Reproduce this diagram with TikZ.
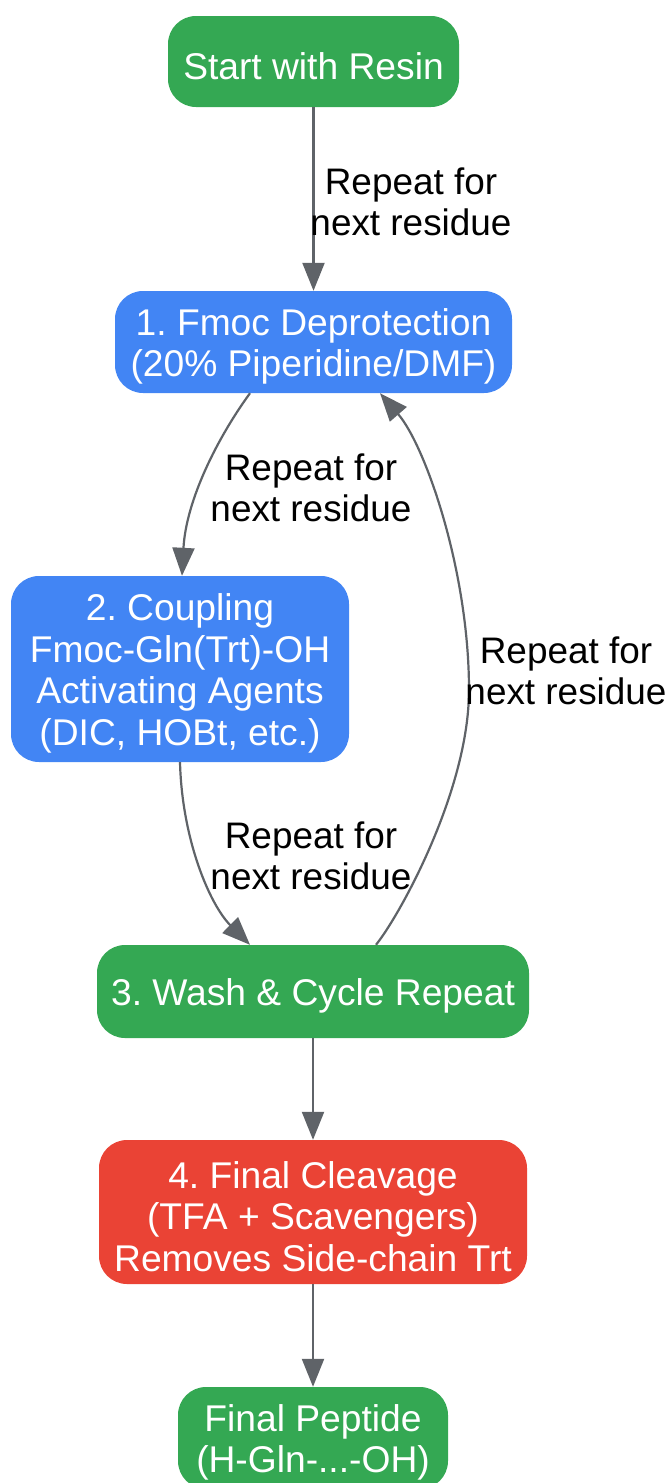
\documentclass[tikz,border=0pt]{standalone}
\usepackage{fontspec}
\setmainfont{Liberation Sans}
\usetikzlibrary{arrows.meta}
\definecolor{gGreen}{HTML}{34A853}
\definecolor{gBlue}{HTML}{4285F4}
\definecolor{gRed}{HTML}{EA4335}
\definecolor{edgeGray}{HTML}{5F6368}
\newcommand{\topstrut}{\rule{0pt}{36pt}}
\begin{document}
\frenchspacing
\begin{tikzpicture}[x=1pt,y=-1pt,
  box/.style={rounded corners=28pt, inner sep=0pt, align=center, text=white,
    font=\fontsize{37.2}{41.5}\selectfont\frenchspacing},
  lbl/.style={align=center, text=black, inner sep=0pt,
    font=\fontsize{36.9}{41.5}\selectfont\frenchspacing},
  conn/.style={draw=edgeGray, line width=2.2pt, -{Triangle[length=28pt,width=22pt]}}]
\useasboundingbox (0,0) rectangle (670,1483);
\node[box, fill=gGreen, minimum width=291pt, minimum height=91pt] (start) at (313.5,61.5) {\topstrut Start with Resin};
\node[box, fill=gBlue, minimum width=397pt, minimum height=102pt] (dep) at (313.5,342) {\topstrut 1. Fmoc Deprotection\\(20\% Piperidine/DMF)};
\node[box, fill=gBlue, minimum width=338pt, minimum height=186pt] (coup) at (180,669) {\topstrut 2. Coupling\\Fmoc-Gln(Trt)-OH\\Activating Agents\\(DIC, HOBt, etc.)};
\node[box, fill=gGreen, minimum width=432pt, minimum height=93pt] (wash) at (313,991.5) {\topstrut 3. Wash \& Cycle Repeat};
\node[box, fill=gRed, minimum width=428pt, minimum height=144pt] (fin) at (313,1212) {\topstrut 4. Final Cleavage\\(TFA + Scavengers)\\Removes Side-chain Trt};
\node[box, fill=gGreen, minimum width=270pt, minimum height=102pt] (pep) at (313,1438) {\topstrut Final Peptide\\(H-Gln-...-OH)};
\coordinate (m) at (469,690);

\draw[conn] (start) -- (dep);
\draw[conn] ([xshift=-63.5pt]dep.south) .. controls (218,437) and (186,500) .. ([xshift=2pt]coup.north);
\draw[conn] (coup.south) .. controls (182,840) and (210,905) .. ([xshift=-63pt]wash.north);
\draw[conn] ([xshift=63pt]wash.north) .. controls (400,915) and (469,790) .. (m) .. controls (469,570) and (425,445) .. ([xshift=66.5pt]dep.south);
\draw[conn] (wash) -- (fin);
\draw[conn] (fin) -- (pep);

\node[lbl] (l1) at (411,202) {Repeat for\\next residue};
\node[lbl] (l2) at (311,488) {Repeat for\\next residue};
\node[lbl] (l3) at (566,671) {Repeat for\\next residue};
\node[lbl] (l4) at (311,856) {Repeat for\\next residue};
\end{tikzpicture}
\end{document}
